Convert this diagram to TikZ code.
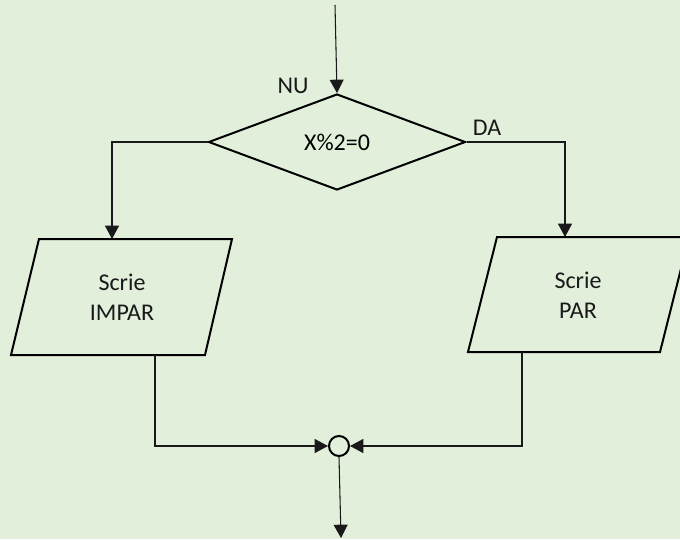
\documentclass[tikz,border=0pt]{standalone}
\usepackage{fontspec}
\setmainfont{Carlito}
\usetikzlibrary{arrows.meta,shapes.geometric}
\definecolor{bg}{HTML}{E2EFDA}
\begin{document}
\begin{tikzpicture}[x=0.75pt,y=-0.75pt,
  conn/.style={line width=0.8pt,draw=black!90,-{Triangle[length=10pt,width=10.5pt]}},
  box/.style={line width=1.5pt,draw=black,line join=miter},
  txt/.style={font=\fontsize{18}{22.5}\selectfont,align=center,inner sep=0pt,text=black!90},
  dia/.style={diamond,draw,line width=1.5pt,minimum width=192.75pt,minimum height=72pt,inner sep=0pt,font=\fontsize{18}{22.5}\selectfont},
  junc/.style={circle,draw,line width=1.5pt,minimum size=15pt,inner sep=0pt}]
\fill[bg] (0,0) rectangle (680,539);
\useasboundingbox (0,0) rectangle (680,539);
\clip (0,0) rectangle (680,539);
% decision
\node[dia] (dec) at (337,142) {X\%2=0};
\node[txt] (nu) at (293,86) {NU};
\node[txt] (da) at (487,128) {DA};
% parallelograms
\draw[box] (39,239) -- (232,239) -- (205,355) -- (11,355) -- cycle;
\node[txt] (impar) at (122,297) {Scrie\\IMPAR};
\draw[box] (497,237) -- (689,237) -- (660,352) -- (468,352) -- cycle;
\node[txt] (par) at (578,295) {Scrie\\PAR};
% junction
\node[junc] (j) at (339,446) {};
% connectors
\coordinate (top) at (335,5);
\coordinate (ia) at (112,239);
\coordinate (pa) at (565,237);
\coordinate (ib) at (155,355);
\coordinate (pb) at (522,352);
\coordinate (out) at (341,538);
\draw[conn] (top) -- (dec.north);
\draw[conn] (dec.west) -| (ia);
\draw[conn] (dec.east) -| (pa);
\draw[conn] (ib) |- (j.west);
\draw[conn] (pb) |- (j.east);
\draw[conn] (j.south) -- (out);
\end{tikzpicture}
\end{document}
